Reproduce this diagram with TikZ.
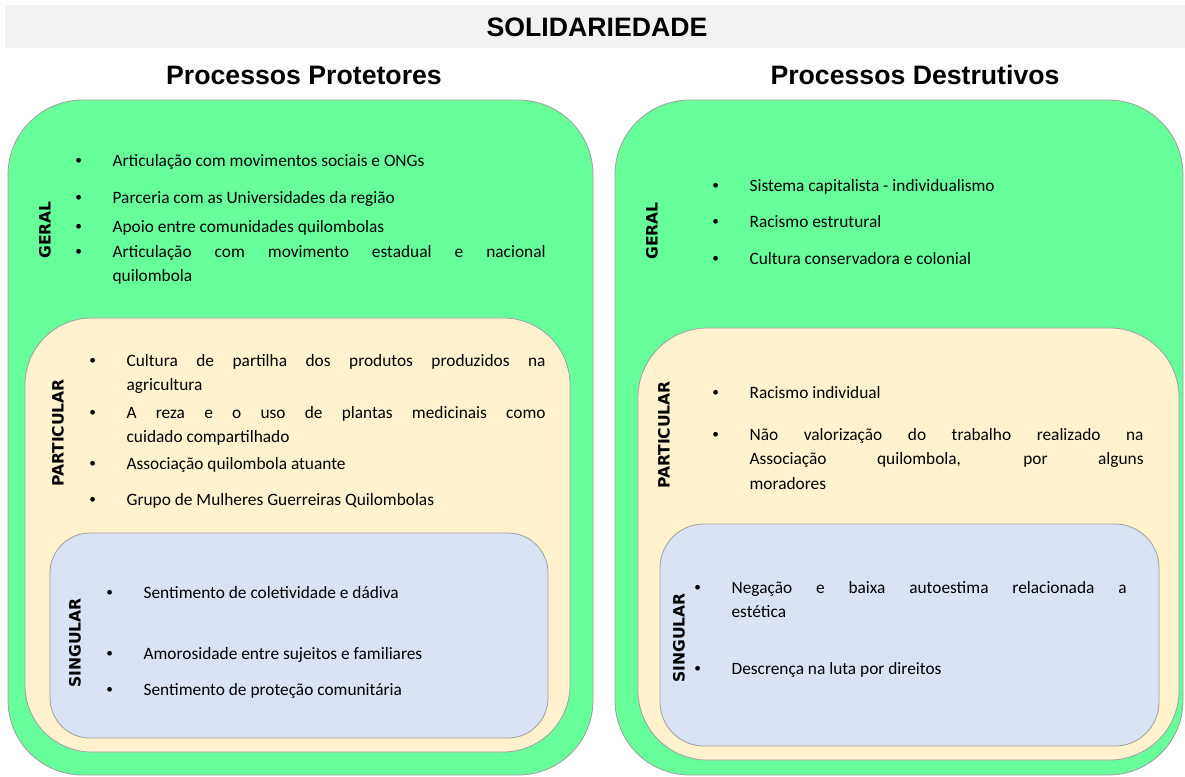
\documentclass[tikz,border=0pt]{standalone}
\usepackage{fontspec}
\setmainfont{Carlito}
\setsansfont{Liberation Sans}
\newfontfamily\nivelfont{DejaVu Sans}
\usetikzlibrary{positioning}

\definecolor{geral}{HTML}{66FF99}
\definecolor{partic}{HTML}{FFF2CC}
\definecolor{singul}{HTML}{DAE3F3}
\definecolor{faixa}{HTML}{F2F2F2}

% bullet, then a justified block of the given width
\newcommand{\blt}[2]{\makebox[28pt][l]{\raisebox{1pt}{\fontsize{10}{10}\selectfont\textbullet}}\parbox[t]{#1}{#2}}

\tikzset{
    item/.style={anchor=base west, inner sep=0pt,
        font={\fontsize{13}{18.4}\selectfont\hyphenpenalty10000\exhyphenpenalty10000}},
    nivel/.style={rotate=90, inner sep=0pt, font={\nivelfont\bfseries\fontsize{11.7}{14}\selectfont}},
    titulo/.style={inner sep=0pt, font={\sffamily\bfseries\fontsize{20}{24}\selectfont}},
    caixa/.style={draw=gray!75, line width=0.6pt}
}

\begin{document}
\begin{tikzpicture}[x=0.75pt,y=-0.75pt]
        \useasboundingbox (0,0) rectangle (1185,776);

        % title
        \fill[faixa] (5,5) rectangle (1185,48);
        \node[titulo] (solid) at (597,27) {SOLIDARIEDADE};
        \node[titulo] (protet) at (304,75) {Processos Protetores};
        \node[titulo] (destru) at (915,75) {Processos Destrutivos};

        % boxes, left
        \draw[caixa,fill=geral,rounded corners=56pt] (8,100) rectangle (593,775);
        \draw[caixa,fill=partic,rounded corners=50pt] (25,318) rectangle (570,752);
        \draw[caixa,fill=singul,rounded corners=30pt] (50,533) rectangle (548,738);

        % boxes, right
        \draw[caixa,fill=geral,rounded corners=56pt] (615,100) rectangle (1183,775);
        \draw[caixa,fill=partic,rounded corners=52pt] (638,328) rectangle (1179,760);
        \draw[caixa,fill=singul,rounded corners=33pt] (660,524) rectangle (1159,746);

        % levels
        \node[nivel] (lgeral) at (45,230) {GERAL};
        \node[nivel] (lpartic) at (58,433) {PARTICULAR};
        \node[nivel] (lsing) at (75,643) {SINGULAR};
        \node[nivel] (rgeral) at (652,231) {GERAL};
        \node[nivel] (rpartic) at (664,435) {PARTICULAR};
        \node[nivel] (rsing) at (679,638) {SINGULAR};

        % protetores
        \node[item] (lg1) at (75,166) {\blt{324.75pt}{Articulação com movimentos sociais e ONGs}};
        \node[item] (lg2) at (75,203) {\blt{324.75pt}{Parceria com as Universidades da região}};
        \node[item] (lg3) at (75,232) {\blt{324.75pt}{Apoio entre comunidades quilombolas}};
        \node[item] (lg4) at (75,257) {\blt{324.75pt}{Articulação com movimento estadual e nacional\linebreak quilombola}};

        \node[item] (lp1) at (89,366) {\blt{314.25pt}{Cultura de partilha dos produtos produzidos na\linebreak agricultura}};
        \node[item] (lp2) at (89,418) {\blt{314.25pt}{A reza e o uso de plantas medicinais como\linebreak cuidado compartilhado}};
        \node[item] (lp3) at (89,469) {\blt{314.25pt}{Associação quilombola atuante}};
        \node[item] (lp4) at (89,505) {\blt{314.25pt}{Grupo de Mulheres Guerreiras Quilombolas}};

        \foreach \y/\txt [count=\i] in {598/Sentimento de coletividade e dádiva,
                659/Amorosidade entre sujeitos e familiares,
                695/Sentimento de proteção comunitária}
            \node[item] (ls\i) at (106,\y) {\blt{300pt}{\txt}};

        % destrutivos
        \foreach \y/\txt [count=\i] in {191/Sistema capitalista - individualismo,
                227/Racismo estrutural,
                264/Cultura conservadora e colonial}
            \node[item] (rg\i) at (712,\y) {\blt{290pt}{\txt}};

        \node[item] (rp1) at (712,398) {\blt{295.5pt}{Racismo individual}};
        \node[item] (rp2) at (712,440) {\blt{295.5pt}{Não valorização do trabalho realizado na\linebreak Associação quilombola, por alguns\linebreak moradores}};

        \node[item] (rs1) at (694,593) {\blt{296.25pt}{Negação e baixa autoestima relacionada a\linebreak estética}};
        \node[item] (rs2) at (694,674) {\blt{296.25pt}{Descrença na luta por direitos}};
    \end{tikzpicture}
\end{document}
